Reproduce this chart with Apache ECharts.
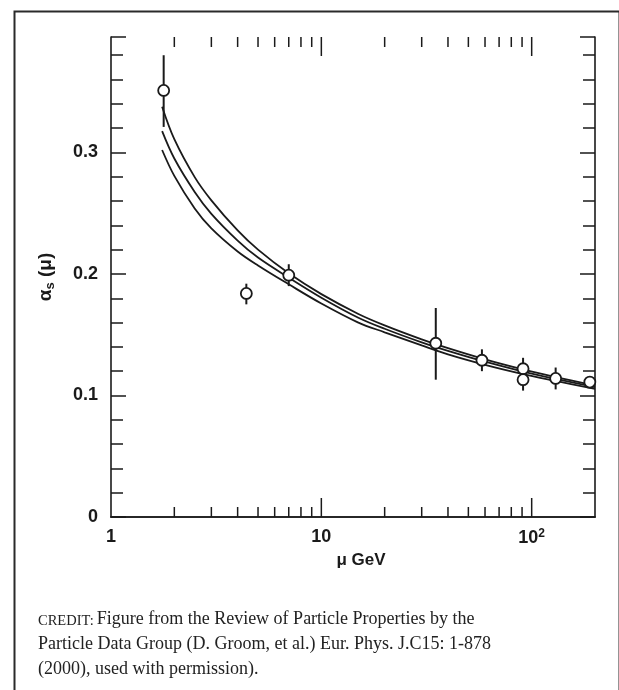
<!DOCTYPE html>
<html>
<head>
<meta charset="utf-8">
<script src="https://cdn.jsdelivr.net/npm/echarts@6/dist/echarts.min.js"></script>
<style>
html,body{margin:0;padding:0;background:#fff;}
#chart{width:619px;height:690px;}
</style>
</head>
<body>
<div id="chart"></div>
<script>
// ---- data ----
const curveMu = [1.75, 2, 2.5, 3, 4, 5, 7, 10, 15, 20, 30, 40, 60, 91, 130, 200];
const curveUpper = [0.3376, 0.3109, 0.2797, 0.2606, 0.2358, 0.2200, 0.2005, 0.1834, 0.1671, 0.1577, 0.1462, 0.1390, 0.1298, 0.1215, 0.1152, 0.1082];
const curveMiddle = [0.3175, 0.2950, 0.2675, 0.2495, 0.2275, 0.2135, 0.1970, 0.1805, 0.1640, 0.1549, 0.1437, 0.1367, 0.1278, 0.1197, 0.1136, 0.1068];
const curveLower = [0.3020, 0.2807, 0.2539, 0.2375, 0.2185, 0.2070, 0.1915, 0.1757, 0.1600, 0.1520, 0.1412, 0.1338, 0.1252, 0.1176, 0.1120, 0.1055];

const pointMu = [1.78, 4.4, 7.0, 35, 58, 91, 91, 130, 189];
const pointAlpha = [0.351, 0.184, 0.199, 0.143, 0.129, 0.122, 0.113, 0.114, 0.111];
const errLow = [0.321, 0.175, 0.190, 0.113, 0.120, 0.113, 0.104, 0.105, 0.106];
const errHigh = [0.380, 0.192, 0.208, 0.172, 0.138, 0.131, 0.122, 0.123, 0.116];

const xMin = 1, xMax = 200;
const yMin = 0, yMax = 0.395;
const majorTicksX = [10, 100];
const minorTicksX = [2, 3, 4, 5, 6, 7, 8, 9, 20, 30, 40, 50, 60, 70, 80, 90];
const yLabelValues = [0, 0.1, 0.2, 0.3];
const xLabelText = {1: '1', 10: '10', 100: '{b|10}{sup|2}'};

const captionLines = [
  ['CREDIT:', 'Figure from the Review of Particle Properties by the'],
  ['', 'Particle Data Group (D. Groom, et al.) Eur. Phys. J.C15: 1-878'],
  ['', '(2000), used with permission).']
];

// ---- chart ----
const FONT = "'Liberation Sans Narrow', 'Liberation Sans', Arial, sans-serif";
const SERIF = "'Liberation Serif', 'Times New Roman', serif";
const black = '#1a1a1a';

const chart = echarts.init(document.getElementById('chart'), null, {renderer: 'canvas'});

const lineSeries = (vals) => ({
  type: 'line',
  data: curveMu.map((m, i) => [m, vals[i]]),
  showSymbol: false,
  smooth: 0.35,
  lineStyle: {color: black, width: 1.8},
  silent: true,
  z: 2
});

function yLabel(v) {
  for (const t of yLabelValues) {
    if (Math.abs(v - t) < 1e-6) return t === 0 ? '0' : t.toFixed(1);
  }
  return '';
}
function xLabel(v) {
  const e = Math.log10(v);
  if (Math.abs(e - Math.round(e)) > 1e-6) return '';
  const k = Math.round(Math.pow(10, Math.round(e)));
  return xLabelText[k] || '';
}

const tickStyle = {color: black, width: 1.5};
const axisLineStyle = {lineStyle: {color: black, width: 1.6}};

function xTickSeries(values, len) {
  return {
    type: 'custom',
    silent: true,
    data: values.map(v => [v, 0]),
    encode: {x: 0, y: 1},
    clip: false,
    renderItem: function (params, api) {
      const v = api.value(0);
      const b = api.coord([v, yMin]);
      const t = api.coord([v, yMax]);
      return {
        type: 'group',
        children: [
          {type: 'line', shape: {x1: b[0], y1: b[1], x2: b[0], y2: b[1] - len}, style: {stroke: black, lineWidth: 1.5}},
          {type: 'line', shape: {x1: t[0], y1: t[1], x2: t[0], y2: t[1] + len}, style: {stroke: black, lineWidth: 1.5}}
        ]
      };
    },
    z: 3
  };
}

const option = {
  animation: false,
  backgroundColor: '#fff',
  grid: {left: 111, right: 24, top: 37, bottom: 173, containLabel: false},
  xAxis: [
    {
      type: 'log', logBase: 10, min: xMin, max: xMax, position: 'bottom',
      axisLine: axisLineStyle,
      axisTick: {show: false},
      splitLine: {show: false},
      axisLabel: {
        show: true, margin: 11, formatter: xLabel,
        color: black, fontFamily: FONT, fontWeight: 'bold', fontSize: 18,
        rich: {
          b: {fontFamily: FONT, fontWeight: 'bold', fontSize: 18, color: black, lineHeight: 20},
          sup: {fontFamily: FONT, fontWeight: 'bold', fontSize: 12, color: black, verticalAlign: 'top', lineHeight: 12}
        }
      },
      name: 'μ GeV', nameLocation: 'middle', nameGap: 31,
      nameTextStyle: {fontFamily: FONT, fontWeight: 'bold', fontSize: 17, color: black, padding: [0, 0, 0, 16]}
    },
    {
      type: 'log', logBase: 10, min: xMin, max: xMax, position: 'top',
      axisLine: axisLineStyle,
      axisTick: {show: false},
      axisLabel: {show: false}, splitLine: {show: false}
    }
  ],
  yAxis: [
    {
      type: 'value', min: yMin, max: yMax, interval: 0.1, position: 'left',
      axisLine: {show: true, lineStyle: {color: black, width: 1.6}},
      axisTick: {show: true, inside: true, length: 15, lineStyle: tickStyle},
      splitLine: {show: false},
      axisLabel: {margin: 13, formatter: yLabel, color: black, fontFamily: FONT, fontWeight: 'bold', fontSize: 18},
      name: '{a|α}{s|s}{a| (μ)}', nameLocation: 'middle', nameGap: 54, nameRotate: 90,
      nameTextStyle: {
        rich: {
          a: {fontFamily: FONT, fontWeight: 'bold', fontSize: 19, color: black, lineHeight: 22},
          s: {fontFamily: FONT, fontWeight: 'bold', fontSize: 13, color: black, verticalAlign: 'bottom', lineHeight: 13}
        }
      }
    },
    {
      type: 'value', min: yMin, max: yMax, interval: 0.02, position: 'left',
      axisLine: {show: false},
      axisTick: {show: true, inside: true, length: 12, lineStyle: tickStyle},
      axisLabel: {show: false}, splitLine: {show: false}
    },
    {
      type: 'value', min: yMin, max: yMax, interval: 0.1, position: 'right',
      axisLine: {show: true, lineStyle: {color: black, width: 1.6}},
      axisTick: {show: true, inside: true, length: 15, lineStyle: tickStyle},
      axisLabel: {show: false}, splitLine: {show: false}
    },
    {
      type: 'value', min: yMin, max: yMax, interval: 0.02, position: 'right',
      axisLine: {show: false},
      axisTick: {show: true, inside: true, length: 12, lineStyle: tickStyle},
      axisLabel: {show: false}, splitLine: {show: false}
    }
  ],
  series: [
    lineSeries(curveUpper),
    lineSeries(curveMiddle),
    lineSeries(curveLower),
    xTickSeries(minorTicksX, 10),
    xTickSeries(majorTicksX, 19),
    {
      type: 'custom',
      silent: true,
      data: pointMu.map((m, i) => [m, errLow[i], errHigh[i]]),
      encode: {x: 0, y: [1, 2]},
      renderItem: function (params, api) {
        const lo = api.coord([api.value(0), api.value(1)]);
        const hi = api.coord([api.value(0), api.value(2)]);
        return {type: 'line', shape: {x1: lo[0], y1: lo[1], x2: hi[0], y2: hi[1]}, style: {stroke: black, lineWidth: 2}};
      },
      z: 4
    },
    {
      type: 'scatter',
      silent: true,
      data: pointMu.map((m, i) => [m, pointAlpha[i]]),
      symbol: 'circle',
      symbolSize: 11,
      itemStyle: {color: '#fff', borderColor: black, borderWidth: 1.8, opacity: 1},
      z: 5
    }
  ],
  graphic: [
    {
      type: 'rect', left: 12, top: 9, silent: true,
      shape: {x: 0, y: 0, width: 605, height: 720},
      style: {fill: 'none', stroke: '#2a2a2a', lineWidth: 2},
      z: 0
    }
  ].concat(captionLines.map((ln, i) => ({
    type: 'text', silent: true,
    x: 38, y: 617 + i * 25,
    style: {
      text: (ln[0] ? '{sc|' + ln[0] + '}' : '') + '{n|' + ln[1] + '}',
      verticalAlign: 'middle',
      rich: {
        sc: {fontFamily: SERIF, fontSize: 14.5, fill: '#222', lineHeight: 21, verticalAlign: 'bottom', padding: [0, 3, 0, 0]},
        n: {fontFamily: SERIF, fontSize: 18, fill: '#222', lineHeight: 23.5, verticalAlign: 'bottom'}
      }
    }
  })))
};

chart.setOption(option);
</script>
</body>
</html>
